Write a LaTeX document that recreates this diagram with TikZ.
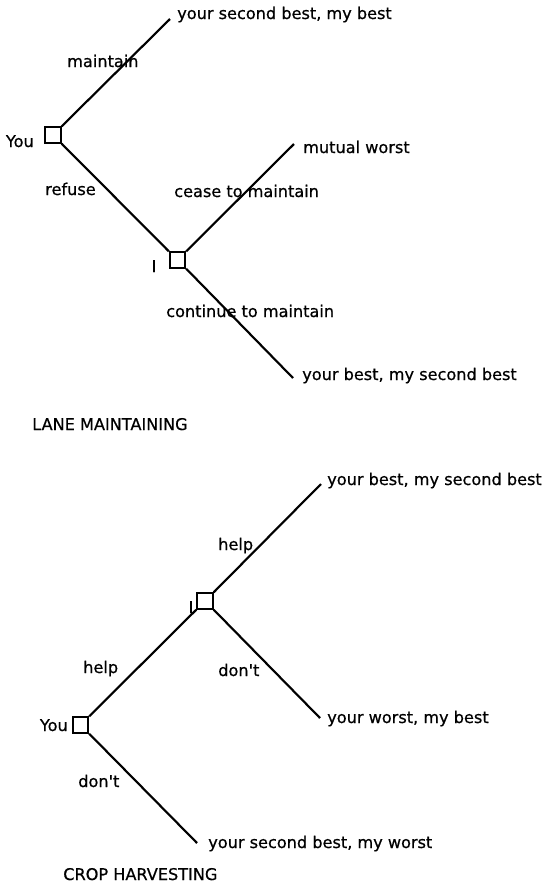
\documentclass[tikz,border=0pt]{standalone}
\usepackage{fontspec}
\setmainfont[FakeBold=0.6]{DejaVu Sans}
\usetikzlibrary{positioning}

\begin{document}
\begin{tikzpicture}[x=0.75pt,y=-0.75pt,
    move/.style={draw, line width=1.5pt, minimum size=11.5pt, inner sep=0pt},
    branch/.style={line width=1.6pt},
    txt/.style={inner sep=0pt, font=\fontsize{12.1}{14}\selectfont}]
  \useasboundingbox (0,0) rectangle (544,886);

  %lane maintaining: choice points
  \node[move] (you1) at (53,135) {};
  \node[move] (me1) at (177.5,260) {};
  \node[txt, anchor=base east] (you1lbl) at (34,147) {You};
  \node[txt, anchor=base] (me1lbl) at (154,272) {I};
  %lane maintaining: ends
  \coordinate (maintainEnd) at (170,19);
  \coordinate (ceaseEnd) at (294,144);
  \coordinate (continueEnd) at (293,378);
  \node[txt, anchor=base west] (pay1) at (177,19) {your second best, my best};
  \node[txt, anchor=base west] (pay2) at (303,153) {mutual worst};
  \node[txt, anchor=base west] (pay3) at (302,380) {your best, my second best};
  %lane maintaining: branches
  \draw[branch] (you1.north east) -- (maintainEnd);
  \draw[branch] (you1.south east) -- (me1.north west);
  \draw[branch] (me1.north east) -- (ceaseEnd);
  \draw[branch] (me1.south east) -- (continueEnd);
  %lane maintaining: labels
  \node[txt, anchor=base west] (maintainLbl) at (67,67) {maintain};
  \node[txt, anchor=base west] (refuseLbl) at (45,195) {refuse};
  \node[txt, anchor=base west] (ceaseLbl) at (174,197) {cease to maintain};
  \node[txt, anchor=base west] (continueLbl) at (166,317) {continue to maintain};
  \node[txt, anchor=base west] (title1) at (32,430) {LANE MAINTAINING};

  %crop harvesting: choice points
  \node[move] (you2) at (80.5,725) {};
  \node[move] (me2) at (205,601) {};
  \node[txt, anchor=base east] (you2lbl) at (68,731) {You};
  \node[txt, anchor=base] (me2lbl) at (191,613) {I};
  %crop harvesting: ends
  \coordinate (helpEnd) at (321,484);
  \coordinate (dontEnd) at (320,718);
  \coordinate (youDontEnd) at (197,843);
  \node[txt, anchor=base west] (pay4) at (327,485) {your best, my second best};
  \node[txt, anchor=base west] (pay5) at (327,723) {your worst, my best};
  \node[txt, anchor=base west] (pay6) at (208,848) {your second best, my worst};
  %crop harvesting: branches
  \draw[branch] (you2.north east) -- (me2.south west);
  \draw[branch] (you2.south east) -- (youDontEnd);
  \draw[branch] (me2.north east) -- (helpEnd);
  \draw[branch] (me2.south east) -- (dontEnd);
  %crop harvesting: labels
  \node[txt, anchor=base west] (helpLbl1) at (83,673) {help};
  \node[txt, anchor=base west] (helpLbl2) at (218,550) {help};
  \node[txt, anchor=base west] (dontLbl1) at (218,676) {don\textquotesingle t};
  \node[txt, anchor=base west] (dontLbl2) at (78,787) {don\textquotesingle t};
  \node[txt, anchor=base west] (title2) at (63,880) {CROP HARVESTING};
\end{tikzpicture}
\end{document}
